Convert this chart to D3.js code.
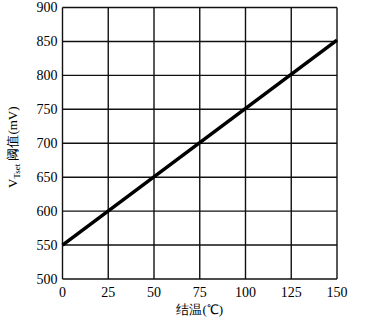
<html>
<head>
<meta charset="utf-8">
<style>
  body { margin: 0; background: #fff; }
</style>
</head>
<body>
<div id="chart-area"></div>
<script src="https://d3js.org/d3.v7.min.js"></script>
<script>

// data
const temps = [0, 150]
const vtset = [550, 852]
const xTicks = [0, 25, 50, 75, 100, 125, 150]
const yTicks = [500, 550, 600, 650, 700, 750, 800, 850, 900]

const MARGIN = { LEFT: 62.5, RIGHT: 42, TOP: 7.5, BOTTOM: 44 }
const WIDTH = 379 - MARGIN.LEFT - MARGIN.RIGHT
const HEIGHT = 323 - MARGIN.TOP - MARGIN.BOTTOM
const FONT = "'Liberation Serif', 'Times New Roman', serif"

const svg = d3.select("#chart-area")
    .append("svg")
        .attr("width", 379)
        .attr("height", 323)

const g = svg.append("g")
    .attr("transform", `translate(${MARGIN.LEFT}, ${MARGIN.TOP})`)

const x = d3.scaleLinear().domain([0, 150]).range([0, WIDTH])
const y = d3.scaleLinear().domain([500, 900]).range([HEIGHT, 0])

// grid
g.selectAll(".vgrid")
    .data(xTicks).enter()
    .append("line")
        .attr("x1", d => x(d)).attr("x2", d => x(d))
        .attr("y1", 0).attr("y2", HEIGHT)
        .attr("stroke", "#111").attr("stroke-width", 1.4)

g.selectAll(".hgrid")
    .data(yTicks).enter()
    .append("line")
        .attr("x1", 0).attr("x2", WIDTH)
        .attr("y1", d => y(d)).attr("y2", d => y(d))
        .attr("stroke", "#111").attr("stroke-width", 1.4)

// tick labels
g.selectAll(".xlab")
    .data(xTicks).enter()
    .append("text")
        .attr("x", d => x(d))
        .attr("y", HEIGHT + 18)
        .attr("text-anchor", "middle")
        .attr("font-family", FONT)
        .attr("font-size", "14px")
        .text(d => d)

g.selectAll(".ylab")
    .data(yTicks).enter()
    .append("text")
        .attr("x", -5)
        .attr("y", d => y(d) + 4.5)
        .attr("text-anchor", "end")
        .attr("font-family", FONT)
        .attr("font-size", "14px")
        .text(d => d)

// line
const line = d3.line()
    .x((d, i) => x(temps[i]))
    .y(d => y(d))

g.append("path")
    .datum(vtset)
    .attr("d", line)
    .attr("fill", "none")
    .attr("stroke", "#000")
    .attr("stroke-width", 3.5)

// axis titles
g.append("text")
    .attr("x", x(75))
    .attr("y", HEIGHT + 35)
    .attr("text-anchor", "middle")
    .attr("font-family", FONT)
    .attr("font-size", "13px")
    .text("结温(℃)")

const yt = g.append("text")
    .attr("transform", `translate(${-46}, ${HEIGHT / 2 + 4}) rotate(-90)`)
    .attr("text-anchor", "middle")
    .attr("font-family", FONT)
    .attr("font-size", "13px")
yt.append("tspan").text("V")
yt.append("tspan").attr("font-size", "9px").attr("dy", 3).text("Tset")
yt.append("tspan").attr("dy", -3).text(" 阈值(mV)")

</script>
</body>
</html>
